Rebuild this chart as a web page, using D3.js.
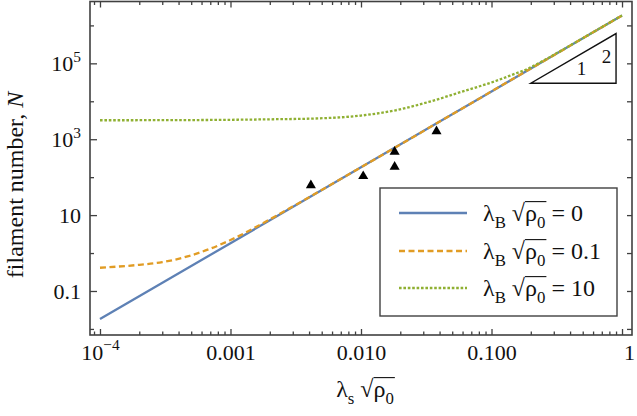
<!DOCTYPE html>
<html>
<head>
<meta charset="utf-8">
<script src="https://cdn.jsdelivr.net/npm/d3@7"></script>
<style>
  html, body { margin: 0; padding: 0; background: #fff; }
  svg { display: block; }
  text { font-family: "Liberation Serif", "Times New Roman", serif; fill: #111; }
</style>
</head>
<body>
<svg id="chart" width="637" height="416"></svg>
<script>
// ---------------- data ----------------
const blueX   = [1e-4, 1e-3, 1e-2, 1e-1, 1];
const blueN   = [0.0182, 1.82, 182, 1.82e4, 1.82e6];

const orangeX = [1e-4, 2e-4, 3e-4, 5e-4, 7e-4, 1e-3, 2e-3, 3e-3, 5e-3, 1e-2, 1e-1, 1];
const orangeN = [0.41, 0.49, 0.575, 0.87, 1.3, 2.2, 7.7, 16.8, 46, 182, 1.82e4, 1.82e6];

const greenX  = [1e-4, 3e-4, 1e-3, 2e-3, 4.8e-3, 1e-2, 0.0184, 0.033, 0.059, 0.107, 0.152, 0.19, 0.25, 0.4, 0.7, 1];
const greenN  = [3160, 3180, 3250, 3350, 3550, 4200, 5800, 9600, 17800, 34000, 53600, 72000, 1.18e5, 2.95e5, 9.0e5, 1.83e6];

const expX = [0.00413, 0.0104, 0.0181, 0.0181, 0.0379];
const expN = [61, 106, 465, 187, 1620];

const xMajor  = [1e-4, 1e-3, 1e-2, 1e-1, 1];
const xLabels = ["10^−4", "0.001", "0.010", "0.100", "1"];
const yLabeled = [0.1, 10, 1e3, 1e5];
const yLabels  = ["0.1", "10", "10^3", "10^5"];
const yUnlabeled = [0.01, 1, 100, 1e4, 1e6];

const slopeTriX = [0.2, 0.9, 0.9];
const slopeTriN = [3.0e4, 3.0e4, 6.1e5];
const slopeLabel1 = [0.49, 5.0e4];
const slopeLabel2 = [0.76, 1.0e5];

const legendItems = ["0", "0.1", "10"];

// ---------------- layout ----------------
const svg = d3.select("#chart");
const L = 90, R = 632, T = 1.5, B = 335;
const frameColor = "#404040";
const colors = ["#5E81B5", "#E19C24", "#8FB032"];
const fontFam = '"Liberation Serif", "Times New Roman", serif';
const tickFS = 22, titleFS = 24, legendFS = 24;

const x = d3.scaleLog().domain([Math.pow(10, -4.0765), Math.pow(10, 0.0765)]).range([L, R]);
const y = d3.scaleLog().domain([Math.pow(10, -2.16), Math.pow(10, 6.63)]).range([B, T]);

svg.append("defs").append("clipPath").attr("id", "plotclip")
  .append("rect").attr("x", L).attr("y", T).attr("width", R - L).attr("height", B - T);

// ---------------- helpers ----------------
const canvas = document.createElement("canvas");
const ctx = canvas.getContext("2d");
function inkMetrics(ch, fs) {
  ctx.font = `${fs}px ${fontFam}`;
  const m = ctx.measureText(ch);
  return { asc: m.actualBoundingBoxAscent, right: m.actualBoundingBoxRight };
}

function mathText(g, px, py, fs, segs, anchor) {
  const t = g.append("text").attr("x", px).attr("y", py)
    .attr("font-size", fs).attr("text-anchor", anchor || "start");
  let shift = 0;
  segs.forEach(s => {
    const target = s.sub ? 0.28 * fs : (s.sup ? -0.42 * fs : 0);
    const sp = t.append("tspan").text(s.t).attr("dy", target - shift);
    if (s.sub || s.sup) sp.attr("font-size", 0.7 * fs);
    if (s.italic) sp.attr("font-style", "italic");
    shift = target;
  });
  return t;
}

function sqrtBar(g, textSel, fs) {
  const node = textSel.node();
  const content = node.textContent;
  const iR = content.indexOf("√");
  const iEnd = content.indexOf("0", iR);
  const eR = node.getExtentOfChar(iR);
  const eE = node.getExtentOfChar(iEnd);
  const baseY = +textSel.attr("y");
  const ink = inkMetrics("√", fs);
  const yb = baseY - ink.asc + 0.6;
  g.append("line")
    .attr("x1", eR.x + ink.right - 0.8).attr("x2", eE.x + eE.width + 1)
    .attr("y1", yb).attr("y2", yb)
    .attr("stroke", "#111").attr("stroke-width", 1.1);
}

function supLabel(textSel, fs) {
  textSel.each(function () {
    const s = d3.select(this);
    const str = s.text();
    if (str.includes("^")) {
      const [base, ex] = str.split("^");
      s.text(null);
      s.append("tspan").text(base);
      s.append("tspan").text(ex).attr("dy", -0.42 * fs).attr("font-size", 0.7 * fs);
    }
  });
}

// ---------------- curves ----------------
const plot = svg.append("g").attr("clip-path", "url(#plotclip)");
const line = d3.line().x(d => x(d[0])).y(d => y(d[1])).curve(d3.curveMonotoneX);

const blueData = blueX.map((v, i) => [v, blueN[i]]);
const orangeData = orangeX.map((v, i) => [v, orangeN[i]]);
const greenData = greenX.map((v, i) => [v, greenN[i]]);

plot.append("path").datum(blueData).attr("d", line)
  .attr("fill", "none").attr("stroke", colors[0]).attr("stroke-width", 2.3);
plot.append("path").datum(orangeData).attr("d", line)
  .attr("fill", "none").attr("stroke", colors[1]).attr("stroke-width", 2.3)
  .attr("stroke-dasharray", "6,3.5");
plot.append("path").datum(greenData).attr("d", line)
  .attr("fill", "none").attr("stroke", colors[2]).attr("stroke-width", 2.3)
  .attr("stroke-dasharray", "2.6,1.8");

const tri = d3.symbol().type(d3.symbolTriangle).size(44);
plot.selectAll("path.exp").data(expX.map((v, i) => [v, expN[i]])).enter()
  .append("path").attr("class", "exp")
  .attr("transform", d => `translate(${x(d[0])},${y(d[1])})`)
  .attr("d", tri).attr("fill", "#000");

// slope triangle
const triPts = slopeTriX.map((v, i) => [x(v), y(slopeTriN[i])]);
svg.append("path").attr("d", "M" + triPts.map(p => p.join(",")).join("L") + "Z")
  .attr("fill", "none").attr("stroke", "#111").attr("stroke-width", 1.4);
svg.append("text").attr("x", x(slopeLabel1[0])).attr("y", y(slopeLabel1[1]))
  .attr("text-anchor", "middle").attr("font-size", 19).text("1");
svg.append("text").attr("x", x(slopeLabel2[0])).attr("y", y(slopeLabel2[1]))
  .attr("text-anchor", "middle").attr("font-size", 19).text("2");

// ---------------- axes ----------------
const xMinor = [];
for (let e = -5; e <= 0; e++) for (let k = 2; k <= 9; k++) {
  const v = k * Math.pow(10, e);
  if (v >= x.domain()[0] && v <= x.domain()[1]) xMinor.push(v);
}

function styleAxis(g) {
  g.select(".domain").remove();
  g.selectAll(".tick line").attr("stroke", frameColor).attr("stroke-width", 1.3);
  g.selectAll(".tick text").attr("font-family", fontFam).attr("fill", "#111");
}

const gxB = svg.append("g").attr("transform", `translate(0,${B})`)
  .call(d3.axisBottom(x).tickValues(xMajor).tickSize(-6).tickPadding(9)
    .tickFormat((d, i) => xLabels[i]));
styleAxis(gxB);
gxB.selectAll(".tick text").attr("font-size", tickFS);
supLabel(gxB.selectAll(".tick text"), tickFS);
gxB.selectAll(".tick text").filter((d) => d === 1).attr("dx", 7);
const gxBm = svg.append("g").attr("transform", `translate(0,${B})`)
  .call(d3.axisBottom(x).tickValues(xMinor).tickSize(-3.5).tickFormat(""));
styleAxis(gxBm);
const gxT = svg.append("g").attr("transform", `translate(0,${T})`)
  .call(d3.axisTop(x).tickValues(xMajor).tickSize(-6).tickFormat(""));
styleAxis(gxT);
const gxTm = svg.append("g").attr("transform", `translate(0,${T})`)
  .call(d3.axisTop(x).tickValues(xMinor).tickSize(-3.5).tickFormat(""));
styleAxis(gxTm);

const gyL = svg.append("g").attr("transform", `translate(${L},0)`)
  .call(d3.axisLeft(y).tickValues(yLabeled).tickSize(-7).tickPadding(9)
    .tickFormat((d, i) => yLabels[i]));
styleAxis(gyL);
gyL.selectAll(".tick text").attr("font-size", tickFS).attr("dy", "0.34em");
supLabel(gyL.selectAll(".tick text"), tickFS);
const gyLm = svg.append("g").attr("transform", `translate(${L},0)`)
  .call(d3.axisLeft(y).tickValues(yUnlabeled).tickSize(-4).tickFormat(""));
styleAxis(gyLm);
const gyR = svg.append("g").attr("transform", `translate(${R},0)`)
  .call(d3.axisRight(y).tickValues(yLabeled.concat(yUnlabeled)).tickSize(-5).tickFormat(""));
styleAxis(gyR);

svg.append("rect").attr("x", L).attr("y", T).attr("width", R - L).attr("height", B - T)
  .attr("fill", "none").attr("stroke", frameColor).attr("stroke-width", 1.6);

// ---------------- titles ----------------
const xt = mathText(svg, 365, 397, titleFS, [
  { t: "λ" }, { t: "s", sub: true }, { t: " √" }, { t: "ρ" }, { t: "0", sub: true }
], "middle");
sqrtBar(svg, xt, titleFS);

svg.append("text")
  .attr("transform", `translate(23,${(88 + 282) / 2}) rotate(-90)`)
  .attr("text-anchor", "middle").attr("font-size", titleFS)
  .call(t => {
    t.append("tspan").text("filament number, ");
    t.append("tspan").attr("font-style", "italic").text("N");
  });

// ---------------- legend ----------------
const lg = svg.append("g");
lg.append("rect").attr("x", 380).attr("y", 188).attr("width", 237).attr("height", 128)
  .attr("fill", "#fff").attr("stroke", frameColor).attr("stroke-width", 1.4);
const rowY = [213, 251, 288];
const dashes = [null, "6,3.5", "2.6,1.8"];
legendItems.forEach((val, i) => {
  const ln = lg.append("line").attr("x1", 399).attr("x2", 467)
    .attr("y1", rowY[i]).attr("y2", rowY[i])
    .attr("stroke", colors[i]).attr("stroke-width", 2.3);
  if (dashes[i]) ln.attr("stroke-dasharray", dashes[i]);
  const t = mathText(lg, 483, rowY[i] + 8, legendFS, [
    { t: "λ" }, { t: "B", sub: true }, { t: " √" }, { t: "ρ" }, { t: "0", sub: true }, { t: " = " + val }
  ]);
  sqrtBar(lg, t, legendFS);
});
</script>
</body>
</html>
